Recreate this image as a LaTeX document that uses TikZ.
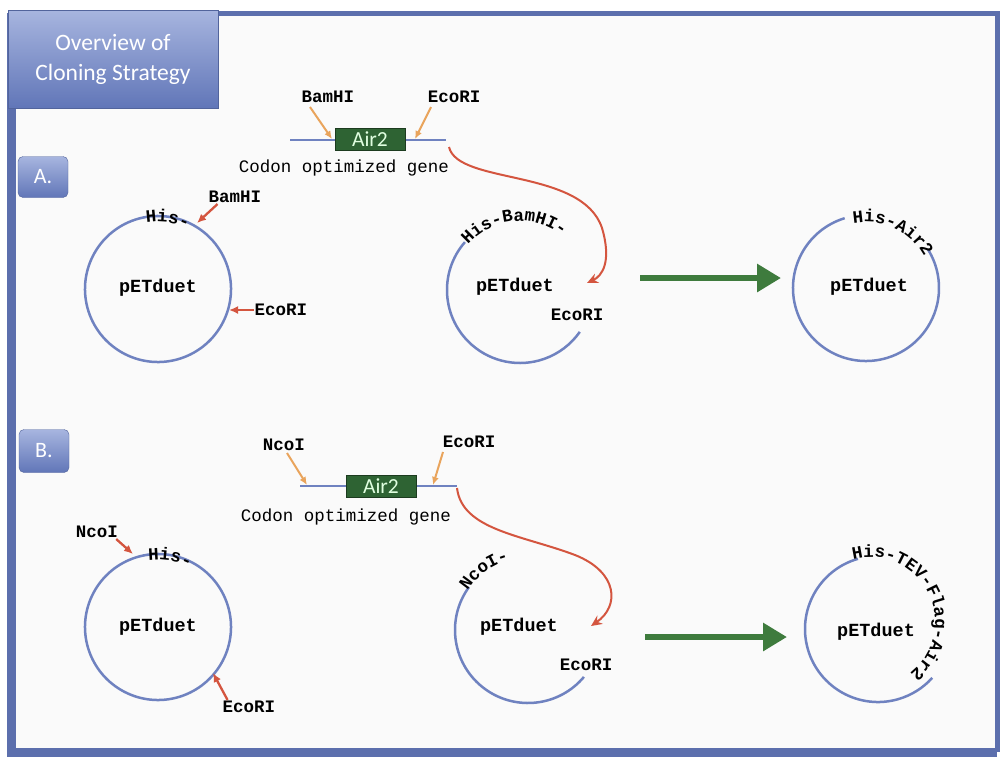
\documentclass[tikz,border=0pt]{standalone}
\usepackage{fontspec}
\setmainfont{Liberation Mono}
\newfontfamily\calib{Carlito}
\usepackage{tikz}
\usetikzlibrary{arrows.meta,positioning,calc,decorations.text}

\definecolor{framebl}{HTML}{5C6FAD}
\definecolor{plasbl}{HTML}{6F82C0}
\definecolor{cutred}{HTML}{D4553F}
\definecolor{cutorg}{HTML}{E9A45C}
\definecolor{arrgrn}{HTML}{3E7B3D}
\definecolor{genegrn}{HTML}{2E6333}
\definecolor{boxtop}{HTML}{A7B5DF}
\definecolor{boxbot}{HTML}{6176B8}
\newcommand\curvfont{\fontsize{17.5}{19}\selectfont\bfseries}

\begin{document}
\begin{tikzpicture}[x=1pt,y=1pt,
lbl/.style={font=\fontsize{17.5}{19}\selectfont\bfseries,inner sep=1pt},
vec/.style={font=\fontsize{18.5}{20}\selectfont\bfseries,inner sep=1pt},
capt/.style={font=\fontsize{17.5}{19}\selectfont,inner sep=1pt},
tag/.style={rounded corners=5pt,top color=boxtop,bottom color=boxbot,draw=boxbot!85!black,minimum width=50pt,minimum height=41pt,font=\calib\fontsize{22}{22}\selectfont,text=white},
gene/.style={draw=genegrn!60!black,fill=genegrn,minimum width=70pt,minimum height=22pt,inner sep=0pt,font=\calib\fontsize{21.5}{20}\selectfont,text=green!12},
dna/.style={plasbl,line width=2.5pt},
ring/.style={plasbl,line width=2.5pt},
arctext/.style={decorate,decoration={text along path,text align=left,text={#1}}},
orarr/.style={-{Latex[length=8pt,width=7pt]},cutorg,line width=2pt},
rdarr/.style={-{Latex[length=9pt,width=8pt]},cutred,line width=2.3pt},
swing/.style={-{Stealth[length=11pt,width=10pt]},cutred,line width=2pt},
into/.style={-{Triangle[length=24pt,width=27pt]},arrgrn,line width=6.5pt}
]
\useasboundingbox (0,0) rectangle (1004,-761);
\fill[white] (0,0) rectangle (1004,-761);

% frame
\fill[gray!4] (11,-13) rectangle (997,-752);
\draw[framebl,line width=5pt] (11,-13) -- (997,-13) -- (997,-752);
\draw[framebl,line width=9pt] (11,-13) -- (11,-752) -- (997,-752);

% title and panel tags
\node[tag,rounded corners=0pt,minimum width=210pt,minimum height=98pt,align=center,
  font=\calib\fontsize{23.5}{30}\selectfont] (title) at (113,-59) {Overview of\\Cloning Strategy};
\node[tag] (tagA) at (43,-177) {A.};
\node[tag,minimum height=43pt] (tagB) at (44,-451) {B.};

% ---------------- A ----------------
\coordinate (cA1) at (158,-289);
\coordinate (cA2) at (520,-290);
\coordinate (cA3) at (866,-288);

% insert
\coordinate (gA0) at (290,-140);
\coordinate (gA1) at (446,-140);
\draw[dna] (gA0) -- (gA1);
\node[gene] (airA) at (370,-139) {Air2};
\node[lbl] (bamA) at (328,-97) {BamHI};
\node[lbl] (ecoA) at (454,-97) {EcoRI};
\coordinate (bamAt) at (310,-107);
\coordinate (ecoAt) at (431,-107);
\coordinate (bamAh) at (332,-139);
\coordinate (ecoAh) at (415,-139);
\draw[orarr] (bamAt) -- (bamAh);
\draw[orarr] (ecoAt) -- (ecoAh);
\node[capt] (codA) at (344,-168) {Codon optimized gene};

% vector
\draw[ring] ($(cA1)+(108:73pt)$) arc[start angle=108,end angle=-297,radius=73pt];
\path[arctext={|\curvfont|His-}] ($(cA1)+(100:67pt)$) arc[start angle=100,end angle=-80,radius=67pt];
\node[vec] (pA1) at (158,-288) {pETduet};
\node[lbl] (bamA1) at (235,-197) {BamHI};
\node[lbl] (ecoA1) at (281,-310) {EcoRI};
\coordinate (bamA1h) at (197,-223);
\coordinate (ecoA1h) at (229,-310);
\draw[rdarr] (bamA1.south west) ++(10,0) -- (bamA1h);
\draw[rdarr] (ecoA1.west) -- (ecoA1h);

% cut vector
\draw[ring] ($(cA2)+(139:73pt)$) arc[start angle=139,end angle=325,radius=73pt];
\path[arctext={|\curvfont|His-BamHI-}] ($(cA2)+(139:69pt)$) arc[start angle=139,end angle=-60,radius=69pt];
\node[vec] (pA2) at (515,-287) {pETduet};
\node[lbl] (ecoA2) at (577,-315) {EcoRI};
\coordinate (swA) at (587,-283);
\draw[swing] ($(gA1)+(3,-7)$) .. controls (458,-185) and (582,-168) .. (602,-228)
  .. controls (612,-262) and (602,-276) .. (swA);

% product
\draw[into] (640,-278) coordinate (outA) -- (781,-278) coordinate (inA);
\draw[ring] ($(cA3)+(107:73pt)$) arc[start angle=107,end angle=392,radius=73pt];
\path[arctext={|\curvfont|His-Air2}] ($(cA3)+(101:66pt)$) arc[start angle=101,end angle=-80,radius=66pt];
\node[vec] (pA3) at (869,-287) {pETduet};

% ---------------- B ----------------
\coordinate (cB1) at (158,-627);
\coordinate (cB2) at (528,-630);
\coordinate (cB3) at (878,-629);

% insert
\coordinate (gB0) at (300,-486);
\coordinate (gB1) at (457,-486);
\draw[dna] (gB0) -- (gB1);
\node[gene] (airB) at (381,-486) {Air2};
\node[lbl] (ncoB) at (284,-445) {NcoI};
\node[lbl] (ecoB) at (469,-442) {EcoRI};
\coordinate (ncoBt) at (287,-453);
\coordinate (ecoBt) at (443,-452);
\coordinate (ncoBh) at (307,-485);
\coordinate (ecoBh) at (433,-485);
\draw[orarr] (ncoBt) -- (ncoBh);
\draw[orarr] (ecoBt) -- (ecoBh);
\node[capt] (codB) at (346,-517) {Codon optimized gene};

% vector
\draw[ring] ($(cB1)+(110:73pt)$) arc[start angle=110,end angle=-298,radius=73pt];
\path[arctext={|\curvfont|His-}] ($(cB1)+(98:67pt)$) arc[start angle=98,end angle=-80,radius=67pt];
\node[vec] (pB1) at (158,-627) {pETduet};
\node[lbl] (ncoB1) at (97,-532) {NcoI};
\node[lbl] (ecoB1) at (249,-707) {EcoRI};
\coordinate (ncoB1h) at (133,-554);
\coordinate (ecoB1h) at (213,-673);
\draw[rdarr] (ncoB1.south east) ++(-3,0) -- (ncoB1h);
\draw[rdarr] (ecoB1.north west) ++(6,0) -- (ecoB1h);

% cut vector
\draw[ring] ($(cB2)+(144:73pt)$) arc[start angle=144,end angle=320,radius=73pt];
\path[arctext={|\curvfont|NcoI-}] ($(cB2)+(147:72pt)$) arc[start angle=147,end angle=-60,radius=72pt];
\node[vec] (pB2) at (519,-627) {pETduet};
\node[lbl] (ecoB2) at (586,-665) {EcoRI};
\coordinate (swB) at (591,-626);
\draw[swing] ($(gB1)+(0,-2)$) .. controls (462,-530) and (522,-535) .. (575,-555)
  .. controls (618,-572) and (620,-606) .. (swB);

% product
\draw[into] (645,-637) coordinate (outB) -- (787,-637) coordinate (inB);
\draw[ring] ($(cB3)+(106:73pt)$) arc[start angle=106,end angle=318,radius=73pt];
\path[arctext={|\curvfont|His-TEV-Flag-Air2}] ($(870,-622)+(105:65pt)$) arc[start angle=105,end angle=-100,radius=65pt];
\node[vec] (pB3) at (876,-632) {pETduet};
\end{tikzpicture}
\end{document}
